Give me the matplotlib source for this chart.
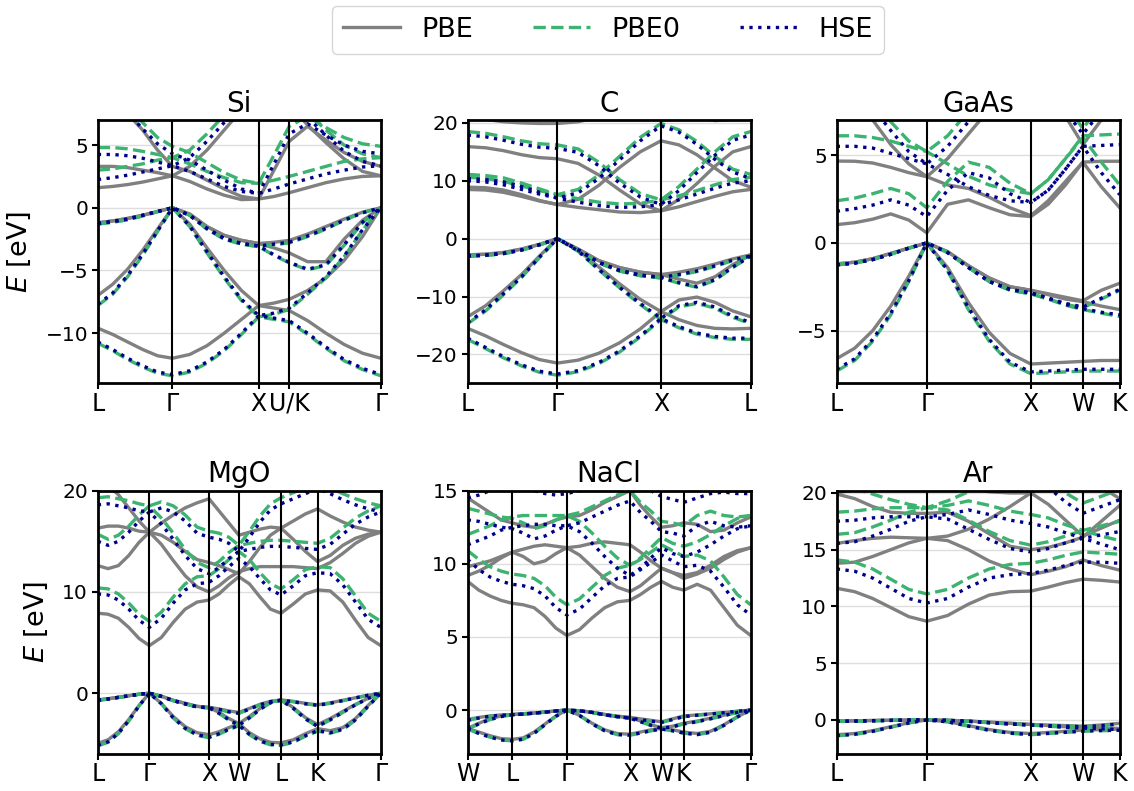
import matplotlib
matplotlib.use("Agg")
import matplotlib.pyplot as plt
from matplotlib.lines import Line2D

# ---------------------------------------------------------------------------
# k-path coordinates (units of 2pi/a) and high-symmetry labels
# ---------------------------------------------------------------------------
si_k = [0.0, 0.173, 0.346, 0.520, 0.693, 0.866, 1.066, 1.266, 1.466, 1.666, 1.866,
        2.043, 2.220, 2.432, 2.644, 2.856, 3.069, 3.281]
si_ticks = [0.0, 0.866, 1.866, 2.220, 3.281]
si_labels = ["L", "Γ", "X", "U/K", "Γ"]

c_k = [0.0, 0.173, 0.346, 0.520, 0.693, 0.866, 1.066, 1.266, 1.466, 1.666, 1.866,
       2.039, 2.212, 2.386, 2.559, 2.732]
c_ticks = [0.0, 0.866, 1.866, 2.732]
c_labels = ["L", "Γ", "X", "L"]

lgxwk_k = [0.0, 0.173, 0.346, 0.520, 0.693, 0.866, 1.066, 1.266, 1.466, 1.666, 1.866,
           2.033, 2.199, 2.366, 2.543, 2.720]
lgxwk_ticks = [0.0, 0.866, 1.866, 2.366, 2.720]
lgxwk_labels = ["L", "Γ", "X", "W", "K"]

mgo_k = [0.0, 0.173, 0.346, 0.520, 0.693, 0.866, 1.066, 1.266, 1.466, 1.666, 1.866,
         2.033, 2.199, 2.366, 2.543, 2.720, 2.896, 3.073, 3.277, 3.481, 3.685,
         3.897, 4.109, 4.322, 4.534, 4.746]
mgo_ticks = [0.0, 0.866, 1.866, 2.366, 3.073, 3.685, 4.746]
mgo_labels = ["L", "Γ", "X", "W", "L", "K", "Γ"]

nacl_k = [0.0, 0.177, 0.354, 0.530, 0.707, 0.880, 1.053, 1.227, 1.400, 1.573,
          1.773, 1.973, 2.173, 2.373, 2.573, 2.740, 2.906, 3.073, 3.250, 3.427,
          3.639, 3.851, 4.064, 4.276, 4.488]
nacl_ticks = [0.0, 0.707, 1.573, 2.573, 3.073, 3.427, 4.488]
nacl_labels = ["W", "L", "Γ", "X", "W", "K", "Γ"]

# ---------------------------------------------------------------------------
# band energies (eV)
# ---------------------------------------------------------------------------
si_pbe = [
    [-9.6, -10.1, -10.7, -11.3, -11.8, -12.0, -11.7, -11.0, -10.0, -8.9, -7.8, -8.0, -8.2, -9.0, -10.0, -10.9, -11.6, -12.0],
    [-7.0, -6.1, -4.9, -3.4, -1.7, 0.0, -1.3, -3.2, -5.0, -6.6, -7.8, -7.6, -7.3, -6.6, -5.6, -4.2, -2.3, 0.0],
    [-1.2, -1.05, -0.85, -0.6, -0.3, 0.0, -0.5, -1.5, -2.2, -2.6, -2.85, -3.2, -3.6, -4.3, -4.3, -2.5, -1.0, 0.0],
    [-1.2, -1.05, -0.85, -0.6, -0.3, 0.0, -0.5, -1.5, -2.2, -2.6, -2.85, -2.75, -2.6, -2.1, -1.5, -0.9, -0.35, 0.0],
    [1.6, 1.7, 1.85, 2.05, 2.3, 2.55, 2.1, 1.5, 1.0, 0.65, 0.7, 0.9, 1.2, 1.6, 2.0, 2.3, 2.5, 2.55],
    [3.3, 3.3, 3.2, 3.0, 2.8, 2.55, 3.3, 4.6, 6.2, 7.8, 9.2, 8.7, 8.2, 6.6, 5.2, 3.9, 2.9, 2.55],
    [9.0, 8.3, 7.5, 6.2, 4.6, 3.3, 2.9, 2.2, 1.5, 0.9, 0.7, 3.0, 5.3, 6.5, 5.4, 4.4, 3.7, 3.3],
]
si_pbe0 = [
    [-10.8, -11.4, -12.1, -12.7, -13.2, -13.4, -13.1, -12.4, -11.4, -10.1, -8.7, -8.9, -9.1, -10.1, -11.2, -12.2, -12.9, -13.4],
    [-7.8, -6.9, -5.5, -3.8, -1.9, 0.0, -1.5, -3.6, -5.6, -7.4, -8.7, -8.5, -8.1, -6.9, -5.6, -3.9, -1.8, 0.0],
    [-1.3, -1.15, -0.95, -0.65, -0.3, 0.0, -0.6, -1.7, -2.5, -2.9, -3.1, -3.8, -4.4, -4.95, -4.6, -3.0, -1.2, 0.0],
    [-1.3, -1.15, -0.95, -0.65, -0.3, 0.0, -0.6, -1.7, -2.5, -2.9, -3.1, -2.95, -2.8, -2.3, -1.7, -1.0, -0.4, 0.0],
    [3.0, 3.1, 3.3, 3.5, 3.8, 4.0, 3.5, 2.9, 2.4, 2.0, 1.95, 2.2, 2.5, 2.9, 3.3, 3.7, 3.9, 4.0],
    [4.8, 4.8, 4.7, 4.5, 4.25, 4.0, 4.6, 5.9, 7.4, 9.0, 10.5, 10.0, 9.0, 7.6, 6.2, 5.0, 4.3, 4.0],
    [10.0, 9.0, 8.0, 6.8, 5.6, 4.9, 4.4, 3.6, 2.8, 2.2, 1.95, 4.2, 6.5, 7.3, 6.4, 5.6, 5.1, 4.9],
]
si_hse = [
    [-10.7, -11.3, -12.0, -12.6, -13.1, -13.3, -13.0, -12.3, -11.3, -10.0, -8.6, -8.8, -9.0, -10.0, -11.1, -12.1, -12.8, -13.3],
    [-7.7, -6.8, -5.4, -3.7, -1.85, 0.0, -1.45, -3.5, -5.5, -7.3, -8.6, -8.4, -8.0, -6.8, -5.5, -3.85, -1.75, 0.0],
    [-1.25, -1.1, -0.9, -0.6, -0.3, 0.0, -0.6, -1.65, -2.45, -2.85, -3.05, -3.75, -4.35, -4.9, -4.55, -2.95, -1.15, 0.0],
    [-1.25, -1.1, -0.9, -0.6, -0.3, 0.0, -0.6, -1.65, -2.45, -2.85, -3.05, -2.9, -2.75, -2.25, -1.65, -1.0, -0.4, 0.0],
    [2.25, 2.4, 2.6, 2.85, 3.1, 3.35, 2.9, 2.3, 1.7, 1.3, 1.15, 1.5, 1.9, 2.3, 2.7, 3.0, 3.25, 3.35],
    [4.25, 4.25, 4.15, 3.95, 3.65, 3.35, 4.0, 5.3, 6.8, 8.4, 9.8, 9.3, 8.8, 7.2, 5.8, 4.5, 3.7, 3.35],
    [9.5, 8.6, 7.6, 6.3, 5.1, 4.3, 3.8, 3.0, 2.2, 1.5, 1.15, 3.5, 5.9, 6.7, 5.8, 5.0, 4.5, 4.3],
]

c_pbe = [
    [-15.5, -16.8, -18.3, -19.7, -20.9, -21.5, -21.0, -19.8, -18.0, -15.6, -12.6, -14.0, -15.0, -15.5, -15.6, -15.5],
    [-13.5, -11.6, -9.0, -6.2, -3.0, 0.0, -2.0, -4.9, -7.8, -10.5, -12.6, -10.6, -10.1, -11.0, -12.5, -13.5],
    [-2.8, -2.7, -2.4, -1.8, -1.0, 0.0, -1.8, -3.8, -5.0, -5.8, -6.2, -7.0, -7.7, -6.6, -4.5, -2.8],
    [-2.8, -2.7, -2.4, -1.8, -1.0, 0.0, -1.8, -3.8, -5.0, -5.8, -6.2, -5.8, -5.2, -4.4, -3.5, -2.8],
    [8.5, 8.4, 8.0, 7.3, 6.5, 5.9, 5.4, 5.0, 4.6, 4.5, 4.8, 5.5, 6.4, 7.3, 8.1, 8.5],
    [8.9, 8.8, 8.4, 7.6, 6.6, 5.9, 6.8, 9.2, 12.3, 15.0, 16.9, 16.2, 14.5, 12.2, 10.0, 8.9],
    [15.9, 15.7, 15.2, 14.5, 14.0, 13.8, 13.0, 11.0, 8.4, 6.0, 4.8, 6.8, 9.5, 12.5, 15.0, 15.9],
    [21.0, 20.6, 20.2, 20.0, 19.9, 19.9, 20.2, 21.0, 22.0, 23.0, 24.0, 22.5, 21.0, 20.4, 20.6, 21.0],
]
c_pbe0 = [
    [-17.4, -19.0, -20.6, -22.0, -23.1, -23.6, -23.0, -21.6, -19.6, -17.0, -14.0, -15.4, -16.5, -17.1, -17.4, -17.4],
    [-14.7, -12.5, -9.7, -6.7, -3.3, 0.0, -2.2, -5.4, -8.5, -11.4, -14.0, -11.8, -11.2, -12.0, -13.6, -14.7],
    [-3.05, -2.9, -2.6, -2.0, -1.1, 0.0, -2.0, -4.2, -5.6, -6.4, -6.8, -7.7, -8.4, -7.2, -5.0, -3.05],
    [-3.05, -2.9, -2.6, -2.0, -1.1, 0.0, -2.0, -4.2, -5.6, -6.4, -6.8, -6.3, -5.7, -4.8, -3.8, -3.05],
    [10.6, 10.4, 9.9, 9.1, 8.3, 7.6, 6.9, 6.3, 6.0, 6.1, 6.7, 7.4, 8.3, 9.3, 10.2, 10.6],
    [11.1, 10.9, 10.5, 9.6, 8.6, 7.6, 8.5, 11.0, 14.2, 17.5, 19.9, 18.8, 16.8, 14.2, 12.0, 11.1],
    [18.5, 18.2, 17.6, 16.9, 16.4, 16.2, 15.5, 13.2, 10.2, 7.8, 6.7, 9.0, 12.0, 15.0, 17.6, 18.5],
]
c_hse = [
    [-17.2, -18.8, -20.4, -21.8, -22.9, -23.4, -22.8, -21.4, -19.4, -16.8, -13.8, -15.2, -16.3, -16.9, -17.2, -17.2],
    [-14.5, -12.3, -9.5, -6.6, -3.2, 0.0, -2.1, -5.3, -8.4, -11.2, -13.8, -11.6, -11.0, -11.8, -13.4, -14.5],
    [-3.0, -2.85, -2.55, -1.95, -1.05, 0.0, -1.95, -4.1, -5.5, -6.3, -6.7, -7.6, -8.3, -7.1, -4.9, -3.0],
    [-3.0, -2.85, -2.55, -1.95, -1.05, 0.0, -1.95, -4.1, -5.5, -6.3, -6.7, -6.2, -5.6, -4.7, -3.7, -3.0],
    [10.0, 9.8, 9.3, 8.5, 7.7, 7.0, 6.3, 5.7, 5.4, 5.5, 5.9, 6.7, 7.7, 8.7, 9.6, 10.0],
    [10.4, 10.2, 9.8, 9.0, 8.0, 7.0, 7.9, 10.4, 13.6, 16.9, 19.5, 18.4, 16.3, 13.7, 11.5, 10.4],
    [17.9, 17.6, 17.0, 16.3, 15.8, 15.6, 14.9, 12.6, 9.6, 7.2, 5.9, 8.3, 11.4, 14.4, 17.0, 17.9],
]

gaas_pbe = [
    [-6.6, -6.0, -5.0, -3.6, -1.9, 0.0, -1.4, -3.4, -5.1, -6.3, -6.9, -6.85, -6.8, -6.75, -6.7, -6.7],
    [-1.2, -1.1, -0.9, -0.6, -0.3, 0.0, -0.5, -1.3, -2.0, -2.5, -2.7, -2.9, -3.1, -3.3, -2.7, -2.3],
    [-1.2, -1.1, -0.9, -0.6, -0.3, 0.0, -0.5, -1.3, -2.0, -2.5, -2.7, -2.95, -3.2, -3.35, -3.6, -3.8],
    [1.04, 1.15, 1.35, 1.65, 1.3, 0.57, 2.2, 2.45, 2.0, 1.6, 1.5, 2.2, 3.3, 4.6, 3.2, 2.0],
    [4.66, 4.65, 4.55, 4.3, 4.0, 3.77, 3.3, 3.1, 2.6, 2.0, 1.55, 2.4, 3.5, 4.6, 4.65, 4.65],
    [9.5, 8.3, 7.0, 5.6, 4.5, 3.77, 4.8, 6.2, 7.6, 8.5, 9.0, 8.4, 7.2, 5.6, 7.0, 8.0],
]
gaas_pbe0 = [
    [-7.3, -6.7, -5.6, -4.1, -2.2, 0.0, -1.6, -3.8, -5.6, -6.9, -7.45, -7.4, -7.35, -7.3, -7.3, -7.3],
    [-1.25, -1.15, -0.95, -0.65, -0.3, 0.0, -0.55, -1.4, -2.2, -2.7, -2.9, -3.2, -3.5, -3.7, -3.2, -2.7],
    [-1.25, -1.15, -0.95, -0.65, -0.3, 0.0, -0.55, -1.4, -2.2, -2.7, -2.9, -3.2, -3.55, -3.8, -4.0, -4.2],
    [2.4, 2.55, 2.8, 3.1, 2.8, 2.0, 3.5, 4.6, 4.3, 3.4, 2.8, 3.6, 4.8, 6.0, 4.6, 3.3],
    [6.1, 6.1, 6.0, 5.8, 5.5, 5.2, 4.5, 3.8, 3.3, 3.0, 2.8, 3.6, 4.8, 6.1, 6.15, 6.2],
    [11.0, 9.6, 8.2, 6.9, 5.8, 5.2, 6.1, 7.5, 9.0, 10.0, 10.5, 9.5, 8.0, 6.5, 8.0, 9.0],
]
gaas_hse = [
    [-7.2, -6.6, -5.5, -4.0, -2.15, 0.0, -1.55, -3.7, -5.5, -6.8, -7.35, -7.3, -7.25, -7.2, -7.2, -7.2],
    [-1.25, -1.15, -0.95, -0.65, -0.3, 0.0, -0.55, -1.4, -2.2, -2.65, -2.85, -3.15, -3.45, -3.65, -3.15, -2.65],
    [-1.25, -1.15, -0.95, -0.65, -0.3, 0.0, -0.55, -1.4, -2.2, -2.65, -2.85, -3.15, -3.5, -3.75, -3.95, -4.1],
    [1.8, 1.95, 2.15, 2.45, 2.15, 1.5, 3.0, 4.0, 3.7, 2.8, 2.3, 3.0, 4.2, 5.5, 4.0, 2.75],
    [5.5, 5.5, 5.4, 5.1, 4.8, 4.5, 3.9, 3.2, 2.7, 2.4, 2.3, 3.0, 4.2, 5.5, 5.55, 5.6],
    [10.5, 9.1, 7.7, 6.4, 5.2, 4.5, 5.5, 6.9, 8.4, 9.4, 10.0, 9.0, 7.5, 6.2, 7.5, 8.5],
]

mgo_pbe = [
    [-4.95, -4.6, -3.8, -2.6, -1.2, 0.0, -1.0, -2.3, -3.3, -3.9, -4.1, -3.8, -3.4, -3.0, -3.9, -4.5, -4.85, -4.9, -4.6, -4.0, -3.5, -3.7, -3.4, -2.5, -1.2, 0.0],
    [-0.66, -0.55, -0.4, -0.25, -0.1, 0.0, -0.3, -0.7, -1.0, -1.3, -1.4, -1.9, -2.5, -3.0, -2.3, -1.5, -0.9, -0.66, -1.4, -2.4, -3.1, -2.5, -1.8, -1.1, -0.5, 0.0],
    [-0.66, -0.55, -0.4, -0.25, -0.1, 0.0, -0.3, -0.7, -1.0, -1.3, -1.4, -1.55, -1.75, -1.9, -1.5, -1.1, -0.8, -0.66, -0.8, -1.0, -1.15, -0.95, -0.7, -0.45, -0.2, 0.0],
    [7.9, 7.8, 7.4, 6.5, 5.4, 4.7, 5.5, 7.0, 8.3, 9.0, 9.2, 9.8, 10.7, 11.5, 10.8, 9.5, 8.3, 7.9, 8.8, 9.8, 10.2, 10.1, 9.0, 7.2, 5.5, 4.7],
    [12.6, 12.3, 12.6, 13.6, 14.9, 15.9, 14.7, 13.1, 11.6, 10.5, 10.0, 10.6, 11.4, 12.0, 12.3, 12.5, 12.5, 12.5, 12.5, 12.4, 12.3, 12.9, 13.8, 14.8, 15.5, 15.9],
    [16.3, 16.5, 16.5, 16.3, 16.0, 15.9, 15.6, 14.9, 14.0, 13.2, 12.9, 12.6, 12.2, 11.8, 13.0, 14.4, 15.6, 16.3, 17.0, 17.7, 18.2, 17.5, 16.9, 16.4, 16.1, 15.9],
    [21.0, 20.5, 19.6, 18.3, 17.0, 15.9, 16.8, 17.6, 18.3, 18.8, 19.2, 18.0, 16.8, 15.6, 15.9, 16.2, 16.4, 16.3, 15.2, 14.0, 13.0, 13.6, 14.6, 15.3, 15.7, 15.9],
]
mgo_pbe0 = [
    [-5.2, -4.85, -4.0, -2.75, -1.25, 0.0, -1.05, -2.45, -3.5, -4.15, -4.4, -4.05, -3.6, -3.2, -4.1, -4.75, -5.1, -5.15, -4.85, -4.25, -3.75, -3.95, -3.6, -2.65, -1.3, 0.0],
    [-0.7, -0.58, -0.42, -0.26, -0.1, 0.0, -0.32, -0.74, -1.06, -1.36, -1.45, -2.0, -2.65, -3.2, -2.45, -1.6, -0.95, -0.7, -1.5, -2.55, -3.3, -2.65, -1.9, -1.15, -0.52, 0.0],
    [-0.7, -0.58, -0.42, -0.26, -0.1, 0.0, -0.32, -0.74, -1.06, -1.36, -1.45, -1.62, -1.85, -2.0, -1.58, -1.15, -0.84, -0.7, -0.85, -1.05, -1.2, -1.0, -0.74, -0.47, -0.21, 0.0],
    [10.4, 10.3, 9.8, 8.9, 7.8, 7.1, 8.0, 9.5, 10.8, 11.5, 11.6, 12.3, 13.2, 14.0, 13.2, 11.9, 10.8, 10.3, 11.2, 12.2, 12.5, 12.4, 11.3, 9.6, 7.9, 7.1],
    [15.7, 15.2, 15.6, 16.5, 17.6, 18.5, 17.3, 15.8, 14.2, 12.9, 12.4, 13.0, 13.9, 14.6, 14.8, 15.0, 15.1, 15.1, 15.0, 14.9, 14.8, 15.3, 16.3, 17.3, 18.0, 18.5],
    [19.3, 19.4, 19.2, 19.0, 18.7, 18.5, 18.9, 18.5, 17.6, 16.4, 16.0, 15.8, 15.4, 14.6, 16.0, 17.5, 18.7, 19.3, 19.8, 20.3, 20.8, 20.3, 19.7, 19.2, 18.8, 18.5],
]
mgo_hse = [
    [-5.15, -4.8, -3.95, -2.7, -1.23, 0.0, -1.03, -2.42, -3.46, -4.1, -4.35, -4.0, -3.56, -3.16, -4.05, -4.7, -5.05, -5.1, -4.8, -4.2, -3.7, -3.9, -3.56, -2.62, -1.28, 0.0],
    [-0.69, -0.57, -0.41, -0.26, -0.1, 0.0, -0.31, -0.73, -1.05, -1.35, -1.44, -1.98, -2.62, -3.16, -2.42, -1.58, -0.94, -0.69, -1.48, -2.52, -3.26, -2.62, -1.88, -1.14, -0.51, 0.0],
    [-0.69, -0.57, -0.41, -0.26, -0.1, 0.0, -0.31, -0.73, -1.05, -1.35, -1.44, -1.6, -1.83, -1.98, -1.56, -1.14, -0.83, -0.69, -0.84, -1.04, -1.19, -0.99, -0.73, -0.46, -0.2, 0.0],
    [9.8, 9.7, 9.2, 8.3, 7.2, 6.5, 7.4, 8.9, 10.2, 10.8, 10.95, 11.6, 12.5, 13.3, 12.5, 11.3, 10.2, 9.7, 10.6, 11.6, 11.9, 11.8, 10.7, 9.0, 7.3, 6.5],
    [15.0, 14.6, 15.0, 15.9, 17.0, 17.9, 16.7, 15.2, 13.6, 12.3, 11.8, 12.4, 13.3, 14.0, 14.2, 14.4, 14.5, 14.5, 14.4, 14.3, 14.2, 14.7, 15.7, 16.7, 17.4, 17.9],
    [18.6, 18.7, 18.5, 18.3, 18.0, 17.9, 18.3, 17.9, 17.0, 15.8, 15.4, 15.2, 14.8, 14.0, 15.4, 16.9, 18.1, 18.7, 19.2, 19.7, 20.2, 19.7, 19.1, 18.6, 18.2, 17.9],
]

nacl_pbe = [
    [-0.64, -0.5, -0.4, -0.33, -0.3, -0.25, -0.2, -0.13, -0.06, 0.0, -0.05, -0.15, -0.3, -0.42, -0.5, -0.6, -0.7, -0.8, -0.6, -0.4, -0.33, -0.25, -0.17, -0.08, 0.0],
    [-1.25, -0.9, -0.6, -0.4, -0.3, -0.25, -0.2, -0.13, -0.06, 0.0, -0.05, -0.15, -0.3, -0.42, -0.5, -0.75, -1.0, -1.2, -1.1, -0.9, -0.75, -0.55, -0.35, -0.15, 0.0],
    [-1.25, -1.5, -1.75, -1.95, -2.0, -1.9, -1.5, -0.95, -0.4, 0.0, -0.35, -0.9, -1.35, -1.6, -1.65, -1.5, -1.35, -1.25, -1.35, -1.5, -1.6, -1.45, -1.0, -0.45, 0.0],
    [8.8, 8.2, 7.8, 7.5, 7.3, 7.2, 7.0, 6.4, 5.6, 5.1, 5.5, 6.3, 7.0, 7.4, 7.5, 7.9, 8.4, 8.8, 8.4, 8.2, 8.6, 8.2, 7.0, 5.8, 5.1],
    [9.2, 9.5, 9.9, 10.4, 10.8, 11.0, 11.2, 11.3, 11.2, 11.1, 10.6, 9.8, 9.0, 8.4, 8.1, 8.5, 9.1, 9.7, 9.4, 9.2, 9.4, 9.9, 10.5, 10.9, 11.1],
    [9.8, 10.0, 10.2, 10.5, 10.8, 10.5, 10.0, 10.2, 10.7, 11.1, 11.2, 11.4, 11.5, 11.4, 11.3, 10.8, 10.2, 9.7, 9.4, 9.0, 9.3, 9.7, 10.3, 10.8, 11.1],
    [14.5, 14.0, 13.5, 13.0, 12.8, 12.6, 12.5, 12.7, 13.0, 13.2, 13.3, 13.7, 14.2, 14.6, 15.0, 14.0, 13.2, 12.5, 12.6, 12.8, 12.7, 12.2, 12.3, 12.8, 13.2],
]
nacl_pbe0 = [
    [-0.7, -0.55, -0.42, -0.35, -0.32, -0.27, -0.21, -0.14, -0.06, 0.0, -0.05, -0.16, -0.32, -0.45, -0.55, -0.65, -0.75, -0.85, -0.65, -0.45, -0.36, -0.27, -0.18, -0.08, 0.0],
    [-1.3, -0.95, -0.65, -0.45, -0.32, -0.27, -0.21, -0.14, -0.06, 0.0, -0.05, -0.16, -0.32, -0.45, -0.55, -0.8, -1.05, -1.25, -1.15, -0.95, -0.8, -0.6, -0.38, -0.16, 0.0],
    [-1.3, -1.6, -1.85, -2.05, -2.1, -2.0, -1.6, -1.0, -0.42, 0.0, -0.37, -0.95, -1.42, -1.68, -1.72, -1.57, -1.42, -1.3, -1.42, -1.58, -1.68, -1.52, -1.05, -0.47, 0.0],
    [10.9, 10.3, 9.8, 9.5, 9.3, 9.2, 9.0, 8.5, 7.7, 7.2, 7.6, 8.4, 9.2, 9.7, 9.9, 10.3, 10.8, 11.3, 10.9, 10.5, 10.6, 10.2, 9.1, 7.9, 7.2],
    [12.0, 12.3, 12.6, 13.0, 13.2, 13.3, 13.3, 13.3, 13.3, 13.3, 12.9, 12.1, 11.2, 10.4, 9.9, 10.4, 11.1, 11.8, 11.4, 11.2, 11.5, 12.0, 12.6, 13.1, 13.3],
    [13.8, 13.6, 13.4, 13.2, 13.1, 12.8, 12.4, 12.6, 13.0, 13.3, 13.5, 13.9, 14.3, 14.7, 15.0, 14.2, 13.6, 12.9, 12.8, 12.6, 13.3, 13.6, 13.3, 13.2, 13.3],
]
nacl_hse = [
    [-0.69, -0.54, -0.42, -0.35, -0.32, -0.27, -0.21, -0.14, -0.06, 0.0, -0.05, -0.16, -0.32, -0.45, -0.55, -0.65, -0.75, -0.84, -0.64, -0.44, -0.35, -0.27, -0.18, -0.08, 0.0],
    [-1.29, -0.94, -0.64, -0.44, -0.32, -0.27, -0.21, -0.14, -0.06, 0.0, -0.05, -0.16, -0.32, -0.45, -0.55, -0.79, -1.04, -1.24, -1.14, -0.94, -0.79, -0.59, -0.37, -0.16, 0.0],
    [-1.29, -1.59, -1.84, -2.04, -2.09, -1.99, -1.59, -0.99, -0.42, 0.0, -0.37, -0.94, -1.41, -1.67, -1.71, -1.56, -1.41, -1.29, -1.41, -1.57, -1.67, -1.51, -1.04, -0.47, 0.0],
    [10.3, 9.6, 9.1, 8.8, 8.6, 8.5, 8.3, 7.8, 7.0, 6.5, 6.9, 7.7, 8.5, 9.0, 9.1, 9.6, 10.1, 10.6, 10.2, 9.8, 9.9, 9.5, 8.4, 7.2, 6.5],
    [11.3, 11.6, 11.9, 12.3, 12.5, 12.6, 12.7, 12.7, 12.6, 12.6, 12.2, 11.4, 10.5, 9.7, 9.2, 9.7, 10.4, 11.1, 10.7, 10.5, 10.8, 11.3, 11.9, 12.4, 12.6],
    [13.0, 12.9, 12.7, 12.5, 12.4, 12.1, 11.7, 11.9, 12.3, 12.6, 12.8, 13.2, 13.6, 14.0, 14.3, 13.5, 12.9, 12.2, 12.1, 11.9, 12.6, 12.9, 12.6, 12.5, 12.6],
    [14.5, 14.7, 15.0, 15.3, 15.5, 15.3, 15.0, 14.8, 14.7, 14.8, 15.0, 15.3, 15.6, 15.8, 16.0, 15.5, 15.0, 14.6, 14.4, 14.2, 14.5, 14.8, 14.9, 14.8, 14.8],
]

ar_pbe = [
    [-0.1, -0.08, -0.05, -0.03, -0.01, 0.0, -0.03, -0.1, -0.2, -0.3, -0.4, -0.45, -0.5, -0.55, -0.45, -0.3],
    [-0.1, -0.08, -0.05, -0.03, -0.01, 0.0, -0.03, -0.1, -0.2, -0.3, -0.4, -0.5, -0.6, -0.65, -0.7, -0.75],
    [-1.3, -1.2, -0.95, -0.6, -0.25, 0.0, -0.15, -0.5, -0.85, -1.1, -1.2, -1.1, -1.0, -0.9, -0.85, -0.8],
    [11.6, 11.3, 10.7, 9.9, 9.1, 8.7, 9.2, 10.2, 11.0, 11.3, 11.35, 11.7, 12.1, 12.4, 12.3, 12.15],
    [13.8, 13.9, 14.4, 15.0, 15.6, 16.0, 15.8, 15.0, 14.0, 13.3, 12.8, 13.1, 13.5, 14.1, 13.6, 13.2],
    [15.55, 15.8, 16.0, 16.1, 16.05, 16.0, 16.2, 16.8, 17.7, 18.8, 20.0, 19.0, 17.6, 16.2, 16.9, 17.6],
    [19.9, 19.5, 18.8, 18.3, 18.2, 18.2, 18.3, 17.5, 16.4, 15.3, 15.0, 15.2, 15.6, 16.1, 17.5, 18.9],
    [20.0, 20.3, 20.6, 20.8, 20.9, 21.0, 20.8, 20.4, 20.1, 20.0, 20.0, 20.6, 21.0, 21.2, 20.5, 19.5],
]
ar_pbe0 = [
    [-0.12, -0.1, -0.07, -0.04, -0.01, 0.0, -0.04, -0.12, -0.24, -0.35, -0.45, -0.5, -0.55, -0.6, -0.5, -0.35],
    [-0.12, -0.1, -0.07, -0.04, -0.01, 0.0, -0.04, -0.12, -0.24, -0.35, -0.45, -0.55, -0.65, -0.72, -0.78, -0.85],
    [-1.4, -1.28, -1.02, -0.65, -0.27, 0.0, -0.17, -0.55, -0.92, -1.18, -1.3, -1.2, -1.1, -1.0, -0.95, -0.92],
    [14.1, 13.9, 13.3, 12.4, 11.5, 11.1, 11.5, 12.5, 13.3, 13.7, 13.8, 14.1, 14.5, 14.8, 14.7, 14.6],
    [16.35, 16.5, 17.0, 17.6, 18.3, 18.7, 18.5, 17.6, 16.6, 15.8, 15.4, 15.7, 16.2, 16.7, 16.2, 15.8],
    [18.3, 18.4, 18.6, 18.7, 18.7, 18.7, 18.9, 19.3, 18.9, 18.4, 18.1, 17.8, 17.2, 16.7, 17.1, 17.5],
    [20.8, 20.4, 19.9, 19.4, 19.0, 18.7, 19.3, 20.1, 20.9, 21.5, 22.0, 21.0, 20.0, 19.1, 19.7, 20.3],
]
ar_hse = [
    [-0.12, -0.1, -0.07, -0.04, -0.01, 0.0, -0.04, -0.12, -0.24, -0.35, -0.45, -0.5, -0.55, -0.6, -0.5, -0.35],
    [-0.12, -0.1, -0.07, -0.04, -0.01, 0.0, -0.04, -0.12, -0.24, -0.35, -0.45, -0.55, -0.65, -0.72, -0.78, -0.85],
    [-1.38, -1.26, -1.0, -0.64, -0.27, 0.0, -0.17, -0.54, -0.91, -1.16, -1.28, -1.18, -1.08, -0.98, -0.93, -0.9],
    [13.3, 13.1, 12.5, 11.6, 10.7, 10.3, 10.7, 11.7, 12.5, 12.8, 12.9, 13.2, 13.6, 13.9, 13.9, 13.8],
    [15.55, 15.7, 16.2, 16.8, 17.5, 17.9, 17.7, 16.8, 15.9, 15.1, 14.8, 15.1, 15.6, 16.0, 15.5, 15.0],
    [17.5, 17.6, 17.8, 17.9, 17.9, 17.9, 18.1, 18.5, 18.1, 17.6, 17.3, 17.0, 16.5, 16.0, 16.3, 16.6],
    [21.0, 20.8, 20.5, 20.4, 20.3, 20.3, 20.5, 21.0, 21.5, 22.0, 22.0, 20.5, 19.2, 18.2, 18.8, 19.4],
]

# ---------------------------------------------------------------------------
GRAY = "gray"
GREEN = "mediumseagreen"
BLUE = "darkblue"
LW = 2.4


def plot_panel(ax, k, pbe, pbe0, hse, ticks, labels, ylim, yticks, title):
    """Draw one band-structure panel."""
    for e in pbe:
        ax.plot(k, e, color=GRAY, lw=LW, zorder=3)
    for e in pbe0:
        ax.plot(k, e, color=GREEN, lw=LW, ls="--", zorder=4)
    for e in hse:
        ax.plot(k, e, color=BLUE, lw=LW, ls=":", zorder=5)
    for t in ticks[1:-1]:
        ax.axvline(t, color="black", lw=1.5, zorder=6)
    ax.set_xlim(k[0], k[-1])
    ax.set_ylim(ylim)
    ax.set_xticks(ticks)
    ax.set_xticklabels(labels, fontsize=17)
    ax.set_yticks(yticks)
    ax.tick_params(axis="y", labelsize=14.5, length=4, width=1.5, pad=3)
    ax.tick_params(axis="x", length=4, width=1.5, pad=2)
    ax.grid(axis="y", color="#dedede", lw=1)
    ax.set_axisbelow(True)
    for sp in ax.spines.values():
        sp.set_linewidth(2)
        sp.set_zorder(7)
    ax.set_title(title, fontsize=20, pad=6)


fig = plt.figure(figsize=(11.34, 7.91), dpi=100)
lefts = [0.0862, 0.4124, 0.7378]
bottoms = [0.5154, 0.0468]
w, h = 0.2496, 0.3329

ax = fig.add_axes([lefts[0], bottoms[0], w, h])
plot_panel(ax, si_k, si_pbe, si_pbe0, si_hse, si_ticks, si_labels, (-14, 7), [-10, -5, 0, 5], "Si")
ax.set_ylabel("$E$ [eV]", fontsize=19.5, labelpad=9)

ax = fig.add_axes([lefts[1], bottoms[0], w, h])
plot_panel(ax, c_k, c_pbe, c_pbe0, c_hse, c_ticks, c_labels, (-25, 20.5), [-20, -10, 0, 10, 20], "C")

ax = fig.add_axes([lefts[2], bottoms[0], w, h])
plot_panel(ax, lgxwk_k, gaas_pbe, gaas_pbe0, gaas_hse, lgxwk_ticks, lgxwk_labels, (-8, 7), [-5, 0, 5], "GaAs")

ax = fig.add_axes([lefts[0], bottoms[1], w, h])
plot_panel(ax, mgo_k, mgo_pbe, mgo_pbe0, mgo_hse, mgo_ticks, mgo_labels, (-6, 20), [0, 10, 20], "MgO")
ax.set_ylabel("$E$ [eV]", fontsize=19.5, labelpad=9)

ax = fig.add_axes([lefts[1], bottoms[1], w, h])
plot_panel(ax, nacl_k, nacl_pbe, nacl_pbe0, nacl_hse, nacl_ticks, nacl_labels, (-3, 15), [0, 5, 10, 15], "NaCl")

ax = fig.add_axes([lefts[2], bottoms[1], w, h])
plot_panel(ax, lgxwk_k, ar_pbe, ar_pbe0, ar_hse, lgxwk_ticks, lgxwk_labels, (-3, 20.2), [0, 5, 10, 15, 20], "Ar")

handles = [Line2D([], [], color=GRAY, lw=LW),
           Line2D([], [], color=GREEN, lw=LW, ls="--"),
           Line2D([], [], color=BLUE, lw=LW, ls=":")]
fig.legend(handles, ["PBE", "PBE0", "HSE"], loc="upper center", ncol=3,
           bbox_to_anchor=(0.536, 0.996), borderaxespad=0.1, fontsize=19.5,
           handlelength=2.1, columnspacing=2.2)

fig.savefig("out.png", dpi=100)
